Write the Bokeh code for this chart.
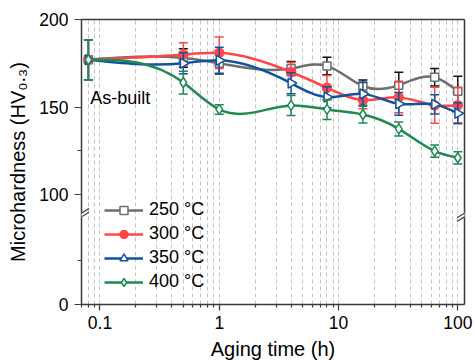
import numpy as np
from bokeh.plotting import figure
from bokeh.models import (Range1d, FixedTicker, CustomJSTickFormatter, LinearAxis,
                          Legend, LegendItem, Label, Arrow)
from bokeh.embed import file_html
from bokeh.resources import INLINE

# ---------------- data ----------------
aging_time = [0.08, 0.5, 1, 4, 8, 16, 32, 64, 100]
hv_250 = [177, 178, 175, 172, 173.5, 162, 162.5, 167, 159]
err_250 = [11.4, 5.3, 6.2, 4, 5, 3.5, 7.3, 5, 8.6]
hv_300 = [177, 180, 181, 170, 161, 154, 155.5, 151, 151]
err_300 = [11.4, 6.7, 9, 5.5, 7, 5, 8.8, 10.3, 10]
hv_350 = [177, 175, 176.7, 163.6, 155.6, 157.5, 151.8, 151.5, 146.4]
err_350 = [11.4, 6, 7.4, 6, 6, 6.5, 6.5, 5.5, 6]
hv_400 = [177, 164, 148.6, 150.9, 148.6, 145.7, 137.5, 124.8, 121]
err_400 = [11.4, 6.5, 2.7, 5.7, 5.7, 4.8, 4, 3.5, 3.5]
series_labels = ["250 °C", "300 °C", "350 °C", "400 °C"]
x_major = [0.1, 1, 10, 100]
y_upper_ticks = [100, 150, 200]
y_lower_ticks = [0]
annotation_text = "As-built"

# ---------------- layout constants ----------------
W, H = 475, 362
FL, FR, FT, FB = 81, 11, 19, 58
FW, FH = W - FL - FR, H - FT - FB
X0, X1 = 0.07, 113.8
Y_TOP = 200.0
PX_PER_UNIT = 1.75
Y_BOTTOM = Y_TOP - FH / PX_PER_UNIT       # lower segment "0" sits here
SHIFT = Y_BOTTOM                           # lower segment offset

FONT = "Liberation Sans"
AX_COLOR = "#3a3a3a"
colors = ["#6e6e6e", "#ff4747", "#1152a3", "#1e8a50"]
err_colors = ["#111111", "#ff4747", "#1152a3", "#1e8a50"]

p = figure(width=W, height=H, x_axis_type="log", output_backend="svg",
           toolbar_location=None, x_range=Range1d(X0, X1),
           y_range=Range1d(Y_BOTTOM, Y_TOP),
           min_border_left=FL, min_border_right=FR, min_border_top=FT,
           min_border_bottom=FB)
p.outline_line_color = None
p.background_fill_color = "white"

# x axis
x_minor = [m * d for d in [0.01, 0.1, 1, 10] for m in range(2, 10) if X0 <= m * d <= X1]
xa = p.xaxis[0]
xa.ticker = FixedTicker(ticks=x_major, minor_ticks=x_minor)
xa.formatter = CustomJSTickFormatter(code="return tick < 1 ? tick.toString() : tick.toFixed(0);")
xa.axis_label = "Aging time (h)"

# y axis (broken)
ya = p.yaxis[0]
ya.ticker = FixedTicker(ticks=[t + SHIFT for t in y_lower_ticks] + y_upper_ticks,
                        minor_ticks=[25 + SHIFT, 125])
ya.formatter = CustomJSTickFormatter(code="return (tick < 90 ? tick - %f : tick).toFixed(0);" % SHIFT)
ya.axis_label = "Microhardness (HV₀.₃)"

for ax in (xa, ya):
    ax.axis_line_color = AX_COLOR
    ax.axis_line_width = 1.5
    ax.major_tick_line_color = AX_COLOR
    ax.minor_tick_line_color = AX_COLOR
    ax.major_tick_line_width = 1.2
    ax.minor_tick_line_width = 1.2
    ax.major_tick_in = 0
    ax.minor_tick_in = 0
    ax.major_label_text_font = FONT
    ax.major_label_text_font_size = "17.5px"
    ax.major_label_text_color = "black"
    ax.axis_label_text_font = FONT
    ax.axis_label_text_font_size = "20px"
    ax.axis_label_text_font_style = "normal"
    ax.axis_label_text_color = "black"
xa.major_tick_out = 6
xa.minor_tick_out = 3
ya.major_tick_out = 7
ya.minor_tick_out = 4
xa.major_label_standoff = 5
xa.axis_label_standoff = 6
ya.major_label_standoff = 6
ya.axis_label_standoff = 7

# top and right spines
top = LinearAxis(ticker=FixedTicker(ticks=[]), axis_line_color=AX_COLOR, axis_line_width=1.5,
                 major_tick_line_color=None, minor_tick_line_color=None)
right = LinearAxis(ticker=FixedTicker(ticks=[]), axis_line_color=AX_COLOR, axis_line_width=1.5,
                   major_tick_line_color=None, minor_tick_line_color=None)
p.add_layout(top, "above")
p.add_layout(right, "right")

# grids
p.ygrid.grid_line_color = None
p.xgrid.grid_line_color = "#c4c4c4"
p.xgrid.grid_line_dash = "4 3"
p.xgrid.grid_line_width = 1
p.xgrid.minor_grid_line_color = "#c4c4c4"
p.xgrid.minor_grid_line_dash = "4 3"
p.xgrid.minor_grid_line_width = 1


def spline_bezier(xs, ys):
    t = np.log10(np.asarray(xs, float))
    y = np.asarray(ys, float)
    n = len(t)
    h = np.diff(t)
    A = np.zeros((n, n))
    b = np.zeros(n)
    A[0, 0] = 1
    A[-1, -1] = 1
    for i in range(1, n - 1):
        A[i, i - 1] = h[i - 1]
        A[i, i] = 2 * (h[i - 1] + h[i])
        A[i, i + 1] = h[i]
        b[i] = 6 * ((y[i + 1] - y[i]) / h[i] - (y[i] - y[i - 1]) / h[i - 1])
    M = np.linalg.solve(A, b)
    s = (y[1:] - y[:-1]) / h
    d0 = s - h * (2 * M[:-1] + M[1:]) / 6
    d1 = s + h * (M[:-1] + 2 * M[1:]) / 6
    return dict(x0=10 ** t[:-1], y0=y[:-1], x1=10 ** t[1:], y1=y[1:],
                cx0=10 ** (t[:-1] + h / 3), cy0=y[:-1] + d0 * h / 3,
                cx1=10 ** (t[1:] - h / 3), cy1=y[1:] - d1 * h / 3)


series = [(hv_250, err_250, "square", 8, 0.0, "white"),
          (hv_300, err_300, "circle", 9, 0.0, None),
          (hv_350, err_350, "triangle", 10, -np.pi / 2, "white"),
          (hv_400, err_400, "diamond", 10, 0.0, "white")]

items = []
for k, (hv, err, mk, sz, ang, fill) in enumerate(series):
    c = colors[k]
    ec = err_colors[k]
    bz = spline_bezier(aging_time, hv)
    lr = p.bezier(line_color=c, line_width=2.5, **bz)
    lo = [v - e for v, e in zip(hv, err)]
    hi = [v + e for v, e in zip(hv, err)]
    p.segment(x0=aging_time, y0=lo, x1=aging_time, y1=hi, line_color=ec, line_width=1.5)
    p.scatter(x=aging_time + aging_time, y=lo + hi, marker="dash", size=9,
              line_color=ec, line_width=1.5)
    mr = p.scatter(x=aging_time, y=hv, marker=mk, size=sz, angle=ang, angle_units="rad",
                   line_color=c, line_width=1.5,
                   fill_color=(fill if fill else c))
    items.append(LegendItem(label=series_labels[k], renderers=[lr, mr]))

legend = Legend(items=items, location=(23, 12), margin=0, padding=0, spacing=3,
                label_height=20, glyph_height=20, glyph_width=39, label_standoff=6,
                border_line_color=None, background_fill_alpha=0,
                label_text_font=FONT, label_text_font_size="18px", label_text_color="black")
p.add_layout(legend)

# As-built annotation
p.add_layout(Label(x=0.083, y=155, text=annotation_text, text_font=FONT,
                   text_font_size="18px", text_baseline="middle", text_color="black"))


# axis break marks (decoration)
def px2x(px):
    return 10 ** (np.log10(X0) + (px - FL) * (np.log10(X1) - np.log10(X0)) / FW)


def py2y(py):
    return Y_TOP - (py - FT) / PX_PER_UNIT


for cx in (FL, FL + FW):
    cy = 214.5
    p.add_layout(Arrow(start=None, end=None, x_start=px2x(cx), y_start=py2y(cy - 2.5),
                       x_end=px2x(cx), y_end=py2y(cy + 2.5), line_color="white", line_width=4))
    for off in (-1.8, 1.8):
        p.add_layout(Arrow(start=None, end=None,
                           x_start=px2x(cx - 7.5), y_start=py2y(cy + off + 4.6),
                           x_end=px2x(cx + 7.5), y_end=py2y(cy + off - 4.6),
                           line_color=AX_COLOR, line_width=1.2))

open("out.html", "w").write(file_html(p, INLINE))
